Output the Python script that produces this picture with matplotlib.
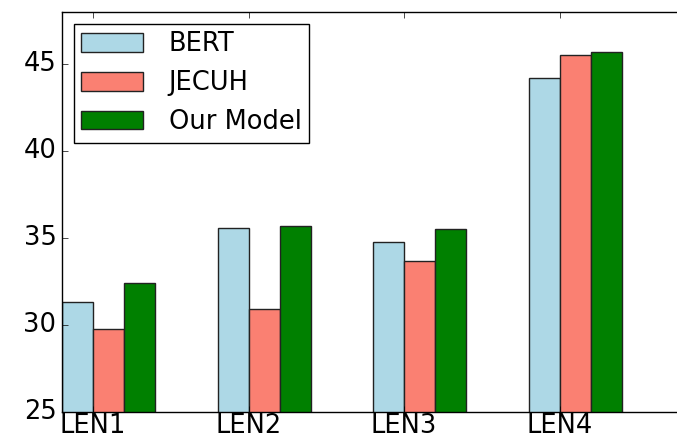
import matplotlib
matplotlib.use("Agg")
import matplotlib.pyplot as plt
import numpy as np

groups = ["LEN1", "LEN2", "LEN3", "LEN4"]
models = ["BERT", "JECUH", "Our Model"]
bert = [31.3, 35.6, 34.8, 44.2]
jecuh = [29.8, 30.9, 33.7, 45.5]
ours = [32.4, 35.7, 35.5, 45.7]
colors = ["lightblue", "salmon", "green"]

plt.style.use("classic")
plt.rcParams["font.family"] = "DejaVu Sans"

fig = plt.figure(figsize=(6.77, 4.40), dpi=100)
ax = fig.add_axes([62 / 677, 28 / 440, 622 / 677, 400 / 440])

idx = np.arange(len(groups))
width = 0.2
for k, (vals, name, c) in enumerate(zip([bert, jecuh, ours], models, colors)):
    ax.bar(idx + k * width, vals, width, align="edge", color=c,
           edgecolor="#222222", linewidth=1.0, label=name)

ax.set_xlim(0, 4.0)
ax.set_ylim(25, 48)
ax.set_yticks([25, 30, 35, 40, 45])
ax.set_xticks(idx + width)
ax.set_xticklabels(groups)
ax.tick_params(axis="y", labelsize=18.5, pad=4)
ax.tick_params(axis="x", labelsize=18.5, pad=1)

leg = ax.legend(loc="upper left", fontsize=18.5, handlelength=2.4,
                handleheight=0.75, labelspacing=0.5, borderpad=0.3,
                handletextpad=1.0, borderaxespad=0.45, frameon=True)
leg.get_frame().set_linewidth(1.0)

fig.savefig("out.png", dpi=100)
